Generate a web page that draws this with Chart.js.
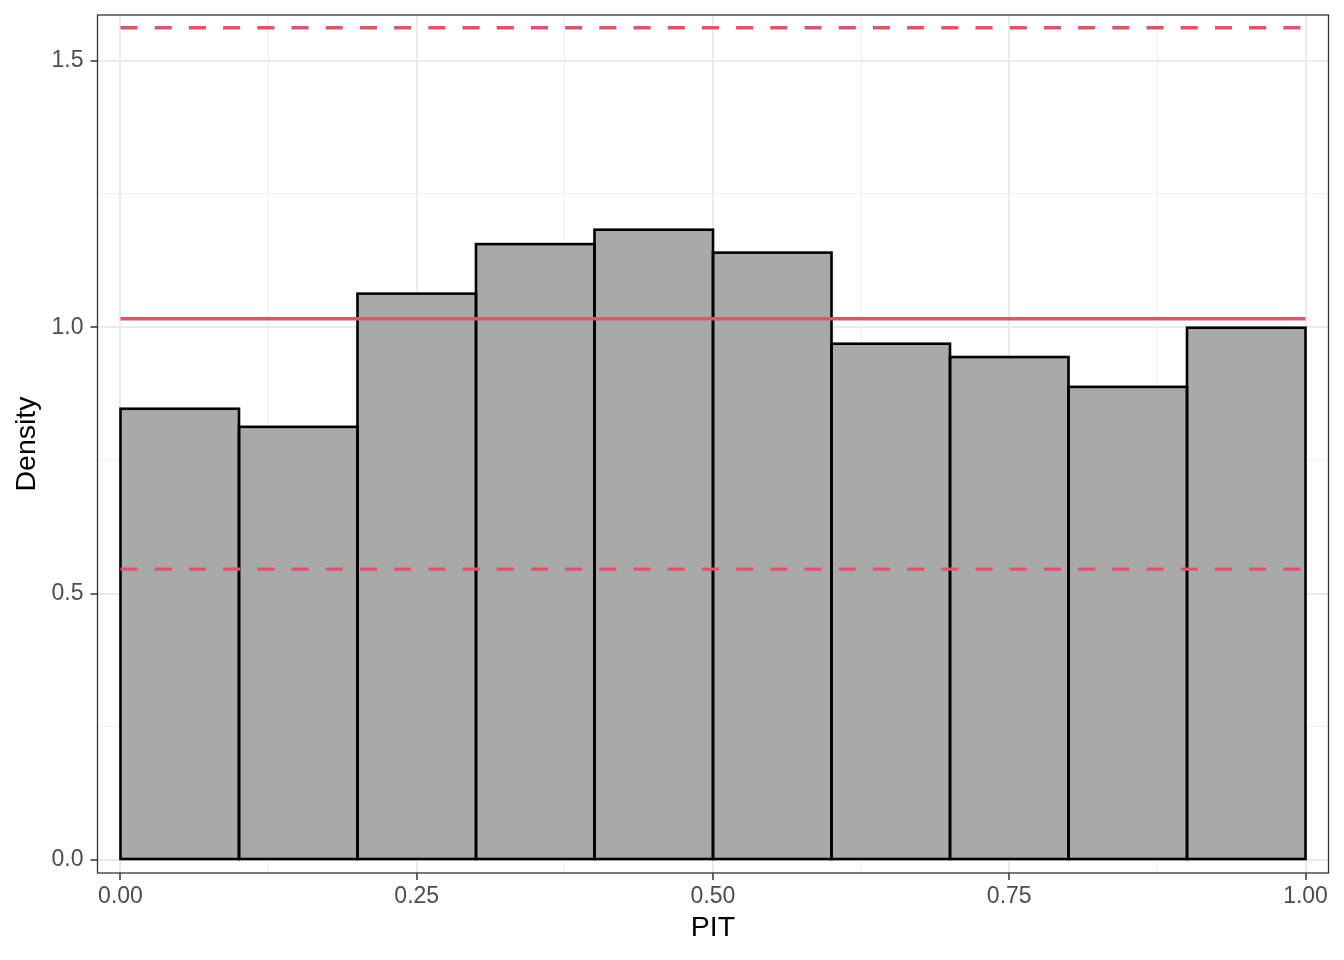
<!DOCTYPE html>
<html>
<head>
<meta charset="utf-8">
<script src="https://cdn.jsdelivr.net/npm/chart.js@4/dist/chart.umd.min.js"></script>
<style>
  html, body { margin: 0; padding: 0; background: #fff; }
  #chart { display: block; }
</style>
</head>
<body>
<canvas id="chart" width="1344" height="960"></canvas>
<script>
// histogram bins (PIT) and the density
const binEdges = [0, 0.1, 0.2, 0.3, 0.4, 0.5, 0.6, 0.7, 0.8, 0.9, 1.0];
const density = [0.847, 0.813, 1.063, 1.156, 1.183, 1.140, 0.969, 0.944, 0.888, 0.999];

// reference line and its band
const refLevel = 1.016;
const lowerBand = 0.546;
const upperBand = 1.562;

// tick positions
const xMajorTicks = [0, 0.25, 0.5, 0.75, 1.0];
const xMinorTicks = [0.125, 0.375, 0.625, 0.875];
const yMajorTicks = [0, 0.5, 1.0, 1.5];
const yMinorTicks = [0.25, 0.75, 1.25];

const RED = '#DF536B';
const FONT = '"Liberation Sans", Arial, Helvetica, sans-serif';

const barData = density.map((d, i) => ({ x: (binEdges[i] + binEdges[i + 1]) / 2, y: d }));
const span = [binEdges[0], binEdges[binEdges.length - 1]];
const hline = v => span.map(x => ({ x, y: v }));

const isMajor = (list, v) => list.some(m => Math.abs(m - v) < 1e-9);

function tickList(major, minor){
  return major.concat(minor).sort((a, b) => a - b).map(v => ({ value: v }));
}

// black outline around each bar, drawn before the red lines
const barOutline = {
  id: 'barOutline',
  afterDatasetDraw(chart, args){
    if (args.index !== 0) return;
    const ctx = chart.ctx;
    ctx.save();
    ctx.strokeStyle = '#000';
    ctx.lineWidth = 2.6;
    args.meta.data.forEach(el => {
      const p = el.getProps(['x', 'y', 'base', 'width'], true);
      ctx.strokeRect(p.x - p.width / 2, p.y, p.width, p.base - p.y);
    });
    ctx.restore();
  }
};

// panel border like theme_bw
const panelBorder = {
  id: 'panelBorder',
  afterDraw(chart){
    const a = chart.chartArea, ctx = chart.ctx;
    ctx.save();
    ctx.strokeStyle = '#333333';
    ctx.lineWidth = 1.3;
    ctx.strokeRect(a.left, a.top, a.right - a.left, a.bottom - a.top);
    ctx.restore();
  }
};

function gridFor(major){
  return {
    offset: false,
    color: c => (c.tick && isMajor(major, c.tick.value)) ? '#EBEBEB' : '#F0F0F0',
    lineWidth: c => (c.tick && isMajor(major, c.tick.value)) ? 2 : 1.1,
    tickColor: c => (c.tick && isMajor(major, c.tick.value)) ? '#333333' : 'rgba(0,0,0,0)',
    tickWidth: 1.5,
    tickLength: 7,
    drawTicks: true
  };
}

const dash = [17.1, 17.1];

new Chart(document.getElementById('chart'), {
  type: 'bar',
  data: {
    datasets: [
      { type: 'bar', data: barData, backgroundColor: '#A9A9A9', borderWidth: 0,
        barPercentage: 1, categoryPercentage: 1, order: 2 },
      { type: 'line', data: hline(refLevel), borderColor: RED, borderWidth: 3.4,
        pointRadius: 0, order: 1 },
      { type: 'line', data: hline(lowerBand), borderColor: RED, borderWidth: 3.4,
        borderDash: dash, borderCapStyle: 'butt', pointRadius: 0, order: 1 },
      { type: 'line', data: hline(upperBand), borderColor: RED, borderWidth: 3.4,
        borderDash: dash, borderCapStyle: 'butt', pointRadius: 0, order: 1 }
    ]
  },
  options: {
    responsive: false,
    devicePixelRatio: 1,
    animation: false,
    layout: { padding: { left: 0, top: 15, right: 15.5, bottom: 0 } },
    plugins: { legend: { display: false }, tooltip: { enabled: false } },
    scales: {
      x: {
        type: 'linear',
        offset: false,
        min: -0.0194,
        max: 1.0194,
        afterBuildTicks: s => { s.ticks = tickList(xMajorTicks, xMinorTicks); },
        afterFit: s => { s.height = 87; s.paddingLeft = 0; s.paddingRight = 0; },
        ticks: {
          autoSkip: false, maxRotation: 0, padding: 3,
          color: '#4D4D4D', font: { family: FONT, size: 23 },
          callback: v => isMajor(xMajorTicks, v) ? v.toFixed(2) : ''
        },
        grid: gridFor(xMajorTicks),
        border: { display: false },
        title: { display: true, text: 'PIT', color: '#000',
          font: { family: FONT, size: 28.5 }, padding: { top: 0, bottom: 15 } }
      },
      y: {
        type: 'linear',
        min: -0.0244,
        max: 1.586,
        afterBuildTicks: s => { s.ticks = tickList(yMajorTicks, yMinorTicks); },
        afterFit: s => { s.width = 97.5; s.paddingTop = 0; s.paddingBottom = 0; },
        ticks: {
          autoSkip: false, padding: 7,
          color: '#4D4D4D', font: { family: FONT, size: 23 },
          callback: v => isMajor(yMajorTicks, v) ? v.toFixed(1) : ''
        },
        grid: gridFor(yMajorTicks),
        border: { display: false },
        title: { display: true, text: 'Density', color: '#000',
          font: { family: FONT, size: 28.5 }, padding: { top: 10, bottom: 0 } }
      }
    }
  },
  plugins: [barOutline, panelBorder]
});
</script>
</body>
</html>
